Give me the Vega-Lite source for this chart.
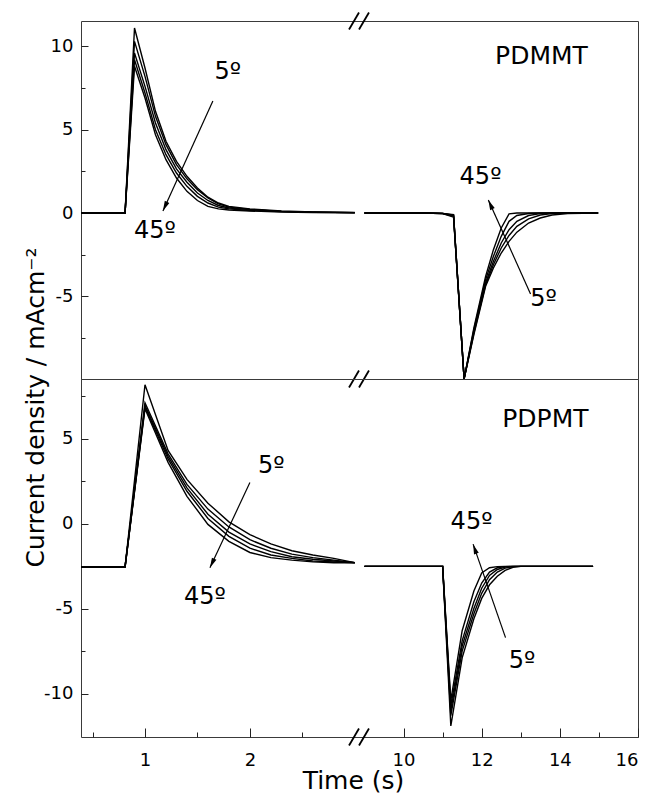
{
  "$schema": "https://vega.github.io/schema/vega-lite/v6.json",
  "padding": {"left": 22, "top": 11, "right": 5, "bottom": 5},
  "background": "white",
  "spacing": 0,
  "bounds": "flush",
  "config": {
    "font": "DejaVu Sans",
    "view": {"stroke": "#3a3a3a", "strokeWidth": 1},
    "axis": {
      "labelFont": "DejaVu Sans", "titleFont": "DejaVu Sans",
      "labelFontSize": 18, "titleFontSize": 25, "titleFontWeight": "normal",
      "labelColor": "black", "titleColor": "black",
      "tickColor": "#222", "tickWidth": 1, "domain": false, "grid": false
    }
  },
  "datasets": {
    "curves": [
      {"p":"A","s":"L","t":0.39,"d5":0,"d15":0,"d25":0,"d35":0,"d45":0},
      {"p":"A","s":"L","t":0.81,"d5":0,"d15":0,"d25":0,"d35":0,"d45":0},
      {"p":"A","s":"L","t":0.9,"d5":11.1,"d15":10.3,"d25":9.6,"d35":9.2,"d45":8.8},
      {"p":"A","s":"L","t":1.0,"d5":8.7,"d15":8.2,"d25":7.6,"d35":7.2,"d45":6.9},
      {"p":"A","s":"L","t":1.1,"d5":6.1,"d15":5.8,"d25":5.4,"d35":5.0,"d45":4.7},
      {"p":"A","s":"L","t":1.2,"d5":4.3,"d15":4.1,"d25":3.8,"d35":3.5,"d45":3.2},
      {"p":"A","s":"L","t":1.3,"d5":3.1,"d15":2.9,"d25":2.65,"d35":2.4,"d45":2.1},
      {"p":"A","s":"L","t":1.4,"d5":2.2,"d15":2.05,"d25":1.85,"d35":1.6,"d45":1.3},
      {"p":"A","s":"L","t":1.5,"d5":1.5,"d15":1.4,"d25":1.2,"d35":1.0,"d45":0.75},
      {"p":"A","s":"L","t":1.6,"d5":0.95,"d15":0.9,"d25":0.75,"d35":0.6,"d45":0.4},
      {"p":"A","s":"L","t":1.7,"d5":0.6,"d15":0.55,"d25":0.45,"d35":0.35,"d45":0.25},
      {"p":"A","s":"L","t":1.8,"d5":0.4,"d15":0.35,"d25":0.3,"d35":0.25,"d45":0.18},
      {"p":"A","s":"L","t":2.0,"d5":0.25,"d15":0.22,"d25":0.2,"d35":0.15,"d45":0.12},
      {"p":"A","s":"L","t":2.3,"d5":0.12,"d15":0.1,"d25":0.1,"d35":0.08,"d45":0.06},
      {"p":"A","s":"L","t":2.6,"d5":0.06,"d15":0.05,"d25":0.05,"d35":0.04,"d45":0.03},
      {"p":"A","s":"L","t":3.0,"d5":0.03,"d15":0.02,"d25":0.02,"d35":0.02,"d45":0.01},
      {"p":"A","s":"R","t":9.0,"d5":0,"d15":0,"d25":0,"d35":0,"d45":0},
      {"p":"A","s":"R","t":10.5,"d5":0,"d15":0,"d25":0,"d35":0,"d45":0},
      {"p":"A","s":"R","t":11.0,"d5":-0.02,"d15":-0.02,"d25":-0.03,"d35":-0.03,"d45":-0.04},
      {"p":"A","s":"R","t":11.28,"d5":-0.1,"d15":-0.12,"d25":-0.15,"d35":-0.2,"d45":-0.25},
      {"p":"A","s":"R","t":11.55,"d5":-9.95,"d15":-9.95,"d25":-9.95,"d35":-9.95,"d45":-9.95},
      {"p":"A","s":"R","t":11.8,"d5":-7.3,"d15":-7.2,"d25":-7.1,"d35":-7.0,"d45":-6.9},
      {"p":"A","s":"R","t":12.1,"d5":-4.4,"d15":-4.3,"d25":-4.2,"d35":-4.0,"d45":-3.8},
      {"p":"A","s":"R","t":12.3,"d5":-3.3,"d15":-3.1,"d25":-2.9,"d35":-2.6,"d45":-2.2},
      {"p":"A","s":"R","t":12.5,"d5":-2.4,"d15":-2.1,"d25":-1.8,"d35":-1.4,"d45":-0.9},
      {"p":"A","s":"R","t":12.7,"d5":-1.7,"d15":-1.35,"d25":-1.0,"d35":-0.5,"d45":-0.05},
      {"p":"A","s":"R","t":12.9,"d5":-1.15,"d15":-0.8,"d25":-0.5,"d35":-0.15,"d45":0},
      {"p":"A","s":"R","t":13.2,"d5":-0.6,"d15":-0.35,"d25":-0.15,"d35":-0.03,"d45":0},
      {"p":"A","s":"R","t":13.5,"d5":-0.3,"d15":-0.12,"d25":-0.04,"d35":0,"d45":0},
      {"p":"A","s":"R","t":13.8,"d5":-0.12,"d15":-0.04,"d25":0,"d35":0,"d45":0},
      {"p":"A","s":"R","t":14.2,"d5":-0.04,"d15":0,"d25":0,"d35":0,"d45":0},
      {"p":"A","s":"R","t":14.98,"d5":0,"d15":0,"d25":0,"d35":0,"d45":0},
      {"p":"B","s":"L","t":0.39,"d5":-2.55,"d15":-2.55,"d25":-2.55,"d35":-2.55,"d45":-2.55},
      {"p":"B","s":"L","t":0.81,"d5":-2.55,"d15":-2.55,"d25":-2.55,"d35":-2.55,"d45":-2.55},
      {"p":"B","s":"L","t":1.0,"d5":8.16,"d15":7.1,"d25":6.95,"d35":6.85,"d45":6.75},
      {"p":"B","s":"L","t":1.22,"d5":4.3,"d15":4.1,"d25":3.95,"d35":3.8,"d45":3.6},
      {"p":"B","s":"L","t":1.4,"d5":2.6,"d15":2.3,"d25":2.1,"d35":1.9,"d45":1.6},
      {"p":"B","s":"L","t":1.6,"d5":1.2,"d15":0.85,"d25":0.55,"d35":0.3,"d45":-0.05},
      {"p":"B","s":"L","t":1.8,"d5":0.1,"d15":-0.2,"d25":-0.5,"d35":-0.75,"d45":-1.05},
      {"p":"B","s":"L","t":2.0,"d5":-0.65,"d15":-0.95,"d25":-1.2,"d35":-1.45,"d45":-1.7},
      {"p":"B","s":"L","t":2.2,"d5":-1.2,"d15":-1.45,"d25":-1.65,"d35":-1.85,"d45":-2.0},
      {"p":"B","s":"L","t":2.4,"d5":-1.6,"d15":-1.8,"d25":-1.95,"d35":-2.05,"d45":-2.15},
      {"p":"B","s":"L","t":2.6,"d5":-1.85,"d15":-2.0,"d25":-2.1,"d35":-2.2,"d45":-2.25},
      {"p":"B","s":"L","t":2.8,"d5":-2.05,"d15":-2.15,"d25":-2.2,"d35":-2.25,"d45":-2.3},
      {"p":"B","s":"L","t":3.0,"d5":-2.3,"d15":-2.3,"d25":-2.3,"d35":-2.3,"d45":-2.3},
      {"p":"B","s":"R","t":9.0,"d5":-2.52,"d15":-2.52,"d25":-2.52,"d35":-2.52,"d45":-2.52},
      {"p":"B","s":"R","t":11.0,"d5":-2.52,"d15":-2.52,"d25":-2.52,"d35":-2.52,"d45":-2.52},
      {"p":"B","s":"R","t":11.21,"d5":-11.9,"d15":-11.3,"d25":-11.0,"d35":-10.7,"d45":-10.4},
      {"p":"B","s":"R","t":11.5,"d5":-7.9,"d15":-7.5,"d25":-7.2,"d35":-6.9,"d45":-6.3},
      {"p":"B","s":"R","t":11.8,"d5":-5.6,"d15":-5.3,"d25":-5.0,"d35":-4.6,"d45":-3.97},
      {"p":"B","s":"R","t":12.0,"d5":-4.4,"d15":-4.1,"d25":-3.8,"d35":-3.5,"d45":-2.9},
      {"p":"B","s":"R","t":12.2,"d5":-3.6,"d15":-3.3,"d25":-3.05,"d35":-2.85,"d45":-2.6},
      {"p":"B","s":"R","t":12.4,"d5":-3.1,"d15":-2.85,"d25":-2.7,"d35":-2.6,"d45":-2.53},
      {"p":"B","s":"R","t":12.6,"d5":-2.75,"d15":-2.62,"d25":-2.56,"d35":-2.53,"d45":-2.52},
      {"p":"B","s":"R","t":12.8,"d5":-2.57,"d15":-2.53,"d25":-2.52,"d35":-2.52,"d45":-2.52},
      {"p":"B","s":"R","t":13.0,"d5":-2.52,"d15":-2.52,"d25":-2.52,"d35":-2.52,"d45":-2.52},
      {"p":"B","s":"R","t":14.85,"d5":-2.52,"d15":-2.52,"d25":-2.52,"d35":-2.52,"d45":-2.52}
    ]
  },
  "vconcat": [
    {
      "width": 557,
      "height": 358,
      "resolve": {"axis": {"x": "independent", "y": "independent"}},
      "layer": [
        {
          "data": {"name": "curves"},
          "transform": [
            {"filter": "datum.p == 'A'"},
            {"fold": ["d5", "d15", "d25", "d35", "d45"], "as": ["angle", "v"]}
          ],
          "mark": {"type": "line", "color": "black", "strokeWidth": 1.4},
          "encoding": {
            "x": {"field": "t", "type": "quantitative",
                  "scale": {"domain": [0.39, 3.04, 8.86, 16], "range": [0, 278, 278, 557], "nice": false, "zero": false},
                  "axis": null},
            "y": {"field": "v", "type": "quantitative",
                  "scale": {"domain": [-9.96, 11.52], "nice": false, "zero": false},
                  "axis": {"orient": "left", "values": [-5, 0, 5, 10], "tickSize": -7, "labelPadding": 15, "labelExpr": "datum.value", "title": null}},
            "detail": [{"field": "angle"}, {"field": "s"}]
          }
        },
        {
          "data": {"values": [
            {"x": 2.945, "y": 11.01, "x2": 3.04, "y2": 12.03},
            {"x": 8.86, "y": 11.01, "x2": 9.115, "y2": 12.03},
            {"x": 2.945, "y": -10.47, "x2": 3.04, "y2": -9.45},
            {"x": 8.86, "y": -10.47, "x2": 9.115, "y2": -9.45}
          ]},
          "mark": {"type": "rule", "color": "black", "strokeWidth": 1.8},
          "encoding": {
            "x": {"field": "x", "type": "quantitative", "axis": null},
            "x2": {"field": "x2"},
            "y": {"field": "y", "type": "quantitative",
                  "axis": {"orient": "left", "values": [-7.5, -2.5, 2.5, 7.5], "tickSize": -4, "labels": false, "title": null}},
            "y2": {"field": "y2"}
          }
        },
        {
          "data": {"values": [
            {"t": 1.647, "v": 6.72, "t2": 1.171, "v2": 0.12},
            {"t": 13.25, "v": -4.86, "t2": 12.17, "v2": 0.78}
          ]},
          "mark": {"type": "rule", "color": "black", "strokeWidth": 1.2},
          "encoding": {
            "x": {"field": "t", "type": "quantitative", "axis": null},
            "x2": {"field": "t2"},
            "y": {"field": "v", "type": "quantitative", "axis": null},
            "y2": {"field": "v2"}
          }
        },
        {
          "data": {"values": [{"t": 1.171, "v": 0.12}]},
          "mark": {"type": "point", "shape": "M0,0L0.5,2L-0.5,2Z", "size": 100, "filled": true, "color": "black", "opacity": 1, "strokeWidth": 0, "angle": 204.4},
          "encoding": {
            "x": {"field": "t", "type": "quantitative", "axis": null},
            "y": {"field": "v", "type": "quantitative", "axis": null}
          }
        },
        {
          "data": {"values": [{"t": 12.17, "v": 0.78}]},
          "mark": {"type": "point", "shape": "M0,0L0.5,2L-0.5,2Z", "size": 100, "filled": true, "color": "black", "opacity": 1, "strokeWidth": 0, "angle": 335.8},
          "encoding": {
            "x": {"field": "t", "type": "quantitative", "axis": null},
            "y": {"field": "v", "type": "quantitative", "axis": null}
          }
        },
        {
          "data": {"values": [
            {"t": 1.79, "v": 8.04, "label": "5º"},
            {"t": 1.095, "v": -1.5, "label": "45º"},
            {"t": 11.97, "v": 1.74, "label": "45º"},
            {"t": 13.58, "v": -5.58, "label": "5º"}
          ]},
          "mark": {"type": "text", "font": "DejaVu Sans", "fontSize": 24, "align": "center", "baseline": "alphabetic", "color": "black"},
          "encoding": {
            "x": {"field": "t", "type": "quantitative", "axis": null},
            "y": {"field": "v", "type": "quantitative", "axis": null},
            "text": {"field": "label"}
          }
        },
        {
          "data": {"values": [{"t": 13.53, "v": 8.92, "label": "PDMMT"}]},
          "mark": {"type": "text", "font": "DejaVu Sans", "fontSize": 25, "align": "center", "baseline": "alphabetic", "color": "black"},
          "encoding": {
            "x": {"field": "t", "type": "quantitative", "axis": null},
            "y": {"field": "v", "type": "quantitative", "axis": null},
            "text": {"field": "label"}
          }
        }
      ]
    },
    {
      "width": 557,
      "height": 358,
      "resolve": {"axis": {"x": "independent", "y": "independent"}},
      "layer": [
        {
          "data": {"name": "curves"},
          "transform": [
            {"filter": "datum.p == 'B'"},
            {"fold": ["d5", "d15", "d25", "d35", "d45"], "as": ["angle", "v"]}
          ],
          "mark": {"type": "line", "color": "black", "strokeWidth": 1.4},
          "encoding": {
            "x": {"field": "t", "type": "quantitative",
                  "scale": {"domain": [0.39, 3.04, 8.86, 16], "range": [0, 278, 278, 557], "nice": false, "zero": false},
                  "axis": {"orient": "bottom", "values": [1, 2, 10, 12, 14, 16], "tickSize": -9, "labelPadding": 23, "labelExpr": "datum.value", "title": "Time (s)", "titleX": 272, "titleY": 51, "titleBaseline": "alphabetic"}},
            "y": {"field": "v", "type": "quantitative",
                  "scale": {"domain": [-12.55, 8.5], "nice": false, "zero": false},
                  "axis": {"orient": "left", "values": [-10, -5, 0, 5], "tickSize": -7, "labelPadding": 15, "labelExpr": "datum.value", "title": "Current density / mAcm⁻²", "titleX": -38, "titleY": 28, "titleBaseline": "alphabetic"}},
            "detail": [{"field": "angle"}, {"field": "s"}]
          }
        },
        {
          "data": {"values": [
            {"x": 2.945, "y": -13.05, "x2": 3.04, "y2": -12.05},
            {"x": 8.86, "y": -13.05, "x2": 9.115, "y2": -12.05}
          ]},
          "mark": {"type": "rule", "color": "black", "strokeWidth": 1.8},
          "encoding": {
            "x": {"field": "x", "type": "quantitative",
                  "axis": {"orient": "bottom", "values": [0.5, 1.5, 2.5, 11, 13, 15], "tickSize": -5, "labels": false, "title": null}},
            "x2": {"field": "x2"},
            "y": {"field": "y", "type": "quantitative",
                  "axis": {"orient": "left", "values": [-7.5, -2.5, 2.5, 7.5], "tickSize": -4, "labels": false, "title": null}},
            "y2": {"field": "y2"}
          }
        },
        {
          "data": {"values": [
            {"t": 2.0, "v": 2.41, "t2": 1.619, "v2": -2.6},
            {"t": 12.61, "v": -6.71, "t2": 11.78, "v2": -1.21}
          ]},
          "mark": {"type": "rule", "color": "black", "strokeWidth": 1.2},
          "encoding": {
            "x": {"field": "t", "type": "quantitative", "axis": null},
            "x2": {"field": "t2"},
            "y": {"field": "v", "type": "quantitative", "axis": null},
            "y2": {"field": "v2"}
          }
        },
        {
          "data": {"values": [{"t": 1.619, "v": -2.6}]},
          "mark": {"type": "point", "shape": "M0,0L0.5,2L-0.5,2Z", "size": 100, "filled": true, "color": "black", "opacity": 1, "strokeWidth": 0, "angle": 205.1},
          "encoding": {
            "x": {"field": "t", "type": "quantitative", "axis": null},
            "y": {"field": "v", "type": "quantitative", "axis": null}
          }
        },
        {
          "data": {"values": [{"t": 11.78, "v": -1.21}]},
          "mark": {"type": "point", "shape": "M0,0L0.5,2L-0.5,2Z", "size": 100, "filled": true, "color": "black", "opacity": 1, "strokeWidth": 0, "angle": 340.7},
          "encoding": {
            "x": {"field": "t", "type": "quantitative", "axis": null},
            "y": {"field": "v", "type": "quantitative", "axis": null}
          }
        },
        {
          "data": {"values": [
            {"t": 2.204, "v": 2.98, "label": "5º"},
            {"t": 1.571, "v": -4.72, "label": "45º"},
            {"t": 11.74, "v": -0.31, "label": "45º"},
            {"t": 13.03, "v": -8.49, "label": "5º"}
          ]},
          "mark": {"type": "text", "font": "DejaVu Sans", "fontSize": 24, "align": "center", "baseline": "alphabetic", "color": "black"},
          "encoding": {
            "x": {"field": "t", "type": "quantitative", "axis": null},
            "y": {"field": "v", "type": "quantitative", "axis": null},
            "text": {"field": "label"}
          }
        },
        {
          "data": {"values": [{"t": 13.63, "v": 5.65, "label": "PDPMT"}]},
          "mark": {"type": "text", "font": "DejaVu Sans", "fontSize": 25, "align": "center", "baseline": "alphabetic", "color": "black"},
          "encoding": {
            "x": {"field": "t", "type": "quantitative", "axis": null},
            "y": {"field": "v", "type": "quantitative", "axis": null},
            "text": {"field": "label"}
          }
        }
      ]
    }
  ]
}
